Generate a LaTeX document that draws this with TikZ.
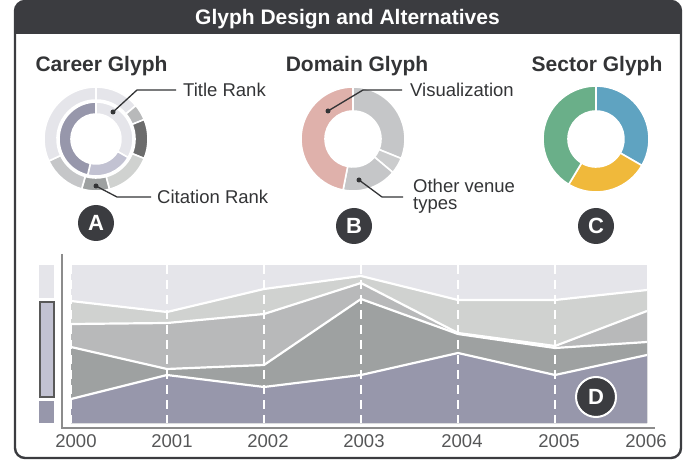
\documentclass[tikz,border=0pt]{standalone}
\usepackage{fontspec}
\setmainfont{Liberation Sans}
\usetikzlibrary{positioning}

\definecolor{barcol}{HTML}{3B3C40}
\definecolor{textcol}{HTML}{333436}
\definecolor{yearcol}{HTML}{555657}
\definecolor{axiscol}{HTML}{8C8C8C}
\definecolor{toplayer}{HTML}{E5E5EA}
\definecolor{layerfour}{HTML}{D0D2D0}
\definecolor{layerthree}{HTML}{B8B9BA}
\definecolor{layertwo}{HTML}{9EA1A1}
\definecolor{layerone}{HTML}{9797AB}
\definecolor{lavlight}{HTML}{C2C2D2}
\definecolor{pinkseg}{HTML}{DFB1AB}
\definecolor{greyseg}{HTML}{C5C6C8}
\definecolor{blueseg}{HTML}{5FA3C1}
\definecolor{yellowseg}{HTML}{F0B93B}
\definecolor{greenseg}{HTML}{6AAF89}

% ring piece: centre, inner r, outer r, from, to, colour
\newcommand{\ringseg}[6]{%
  \filldraw[fill=#6, draw=white, line width=1.6pt]
    ([shift={(#4:#3)}]#1) arc[start angle=#4, end angle=#5, radius=#3]
    -- ([shift={(#5:#2)}]#1) arc[start angle=#5, end angle=#4, radius=#2] -- cycle;}

\begin{document}
\begin{tikzpicture}[x=1pt, y=-1pt,
  heading/.style={font=\fontsize{21}{21}\selectfont\bfseries, text=textcol, anchor=base},
  callout/.style={font=\fontsize{18.5}{18.5}\selectfont, text=textcol, anchor=base west, inner sep=0},
  dot/.style={circle, fill=textcol, inner sep=0, minimum size=5pt},
  leader/.style={draw=textcol, line width=1.3pt},
  badge/.style={circle, fill=barcol, text=white, minimum size=36pt, inner sep=0, font=\fontsize{22}{22}\selectfont\bfseries},
  year/.style={font=\fontsize{18.5}{18.5}\selectfont, text=yearcol},
  sep/.style={white, line width=2.2pt, line join=round},
  gridline/.style={white, line width=2pt, dash pattern=on 9pt off 6pt}]
	\useasboundingbox (0,0) rectangle (683,462);

	% frame and title bar
	\begin{scope}
		\clip[rounded corners=10pt] (15,1) rectangle (681,458);
		\fill[barcol] (15,1) rectangle (681,34);
	\end{scope}
	\draw[barcol, line width=2.4pt, rounded corners=10pt] (15,1) rectangle (681,458);
	\node[font=\fontsize{21}{21}\selectfont\bfseries, text=white, anchor=base] (title) at (347.5,25) {Glyph Design and Alternatives};

	\node[heading] (career) at (101.5,71.5) {Career Glyph};
	\node[heading] (domain) at (357,71.5) {Domain Glyph};
	\node[heading] (sector) at (597,71.5) {Sector Glyph};

	% career glyph
	\coordinate (cg) at (96,139);
	\ringseg{cg}{25}{37}{-90}{30}{toplayer}
	\ringseg{cg}{25}{37}{30}{103}{lavlight}
	\ringseg{cg}{25}{37}{103}{270}{layerone}
	\ringseg{cg}{39}{52}{-90}{-40}{toplayer}
	\ringseg{cg}{39}{52}{-40}{-22}{layerthree}
	\ringseg{cg}{39}{52}{-22}{22}{gray!85!black}
	\ringseg{cg}{39}{52}{22}{75}{layerfour}
	\ringseg{cg}{39}{52}{75}{106}{layertwo}
	\ringseg{cg}{39}{52}{106}{155}{greyseg}
	\ringseg{cg}{39}{52}{155}{270}{toplayer}

	% domain glyph
	\coordinate (dg) at (353,139);
	\ringseg{dg}{28}{52}{-90}{22}{greyseg}
	\ringseg{dg}{28}{52}{22}{40}{greyseg!90!white}
	\ringseg{dg}{28}{52}{40}{101}{greyseg}
	\ringseg{dg}{28}{52}{101}{270}{pinkseg}

	% sector glyph
	\coordinate (sg) at (596,139);
	\ringseg{sg}{28}{53}{-90}{30}{blueseg}
	\ringseg{sg}{28}{53}{30}{121}{yellowseg}
	\ringseg{sg}{28}{53}{121}{270}{greenseg}

	% callouts
	\node[dot] (trdot) at (113,112) {};
	\coordinate (trbend) at (137,90);
	\coordinate (trend) at (176,90);
	\node[callout] (titlerank) at (183,97) {Title Rank};
	\draw[leader] (trdot.center) -- (trbend) -- (trend);

	\node[dot] (crdot) at (96,186) {};
	\coordinate (crbend) at (117,197);
	\coordinate (crend) at (151,197);
	\node[callout] (citerank) at (157,203.5) {Citation Rank};
	\draw[leader] (crdot.center) -- (crbend) -- (crend);

	\node[dot] (visdot) at (328,111) {};
	\coordinate (visbend) at (363,90);
	\coordinate (visend) at (402,90);
	\node[callout] (vis) at (410,97) {Visualization};
	\draw[leader] (visdot.center) -- (visbend) -- (visend);

	\node[dot] (vendot) at (359,180) {};
	\coordinate (venbend) at (382,197);
	\coordinate (venend) at (403,197);
	\node[callout] (venue) at (413,192.5) {Other venue};
	\node[callout, below right=4.5pt and 0pt of venue.south west] (types) {types};
	\draw[leader] (vendot.center) -- (venbend) -- (venend);

	\node[badge] (A) at (96,223) {A};
	\node[badge] (B) at (354,226) {B};
	\node[badge] (C) at (596,226) {C};

	% stacked area chart
	\fill[toplayer] (71,265) rectangle (647,423);
	\fill[layerfour] (71,423) -- (71,301) -- (167,312) -- (264,289) -- (361,276) -- (458,300) -- (555,300) -- (647,290) -- (647,423) -- cycle;
	\fill[layerthree] (71,423) -- (71,324) -- (167,323) -- (264,314) -- (361,283) -- (458,333) -- (555,346) -- (647,311) -- (647,423) -- cycle;
	\fill[layertwo] (71,423) -- (71,347) -- (167,369) -- (264,365) -- (361,299) -- (458,334) -- (555,348) -- (647,342) -- (647,423) -- cycle;
	\fill[layerone] (71,423) -- (71,399) -- (167,375) -- (264,387) -- (361,375) -- (458,353) -- (555,375) -- (647,355) -- (647,423) -- cycle;
	\draw[sep] (71,301) -- (167,312) -- (264,289) -- (361,276) -- (458,300) -- (555,300) -- (647,290);
	\draw[sep] (71,324) -- (167,323) -- (264,314) -- (361,283) -- (458,333) -- (555,346) -- (647,311);
	\draw[sep] (71,347) -- (167,369) -- (264,365) -- (361,299) -- (458,334) -- (555,348) -- (647,342);
	\draw[sep] (71,399) -- (167,375) -- (264,387) -- (361,375) -- (458,353) -- (555,375) -- (647,355);
	\draw[gridline] (71,265) -- (71,423)
		(167,265) -- (167,423)
		(264,265) -- (264,423)
		(361,265) -- (361,423)
		(458,265) -- (458,423)
		(555,265) -- (555,423);
	\draw[axiscol, line width=2pt] (62,254) -- (62,428) -- (655,428);

	% legend bar
	\fill[toplayer] (39,265) rectangle (54,298);
	\filldraw[fill=lavlight, draw=gray!70!black, line width=2pt] (40,302) rectangle (54,397);
	\fill[layerone] (39,401) rectangle (54,423);

	\node[badge, draw=white, line width=2pt, minimum size=40pt] (D) at (596,397) {D};

	\node[year] (y2000) at (76,441) {2000};
	\node[year] (y2001) at (172,441) {2001};
	\node[year] (y2002) at (268,441) {2002};
	\node[year] (y2003) at (364,441) {2003};
	\node[year] (y2004) at (462,441) {2004};
	\node[year] (y2005) at (559,441) {2005};
	\node[year] (y2006) at (646,441) {2006};
\end{tikzpicture}
\end{document}
